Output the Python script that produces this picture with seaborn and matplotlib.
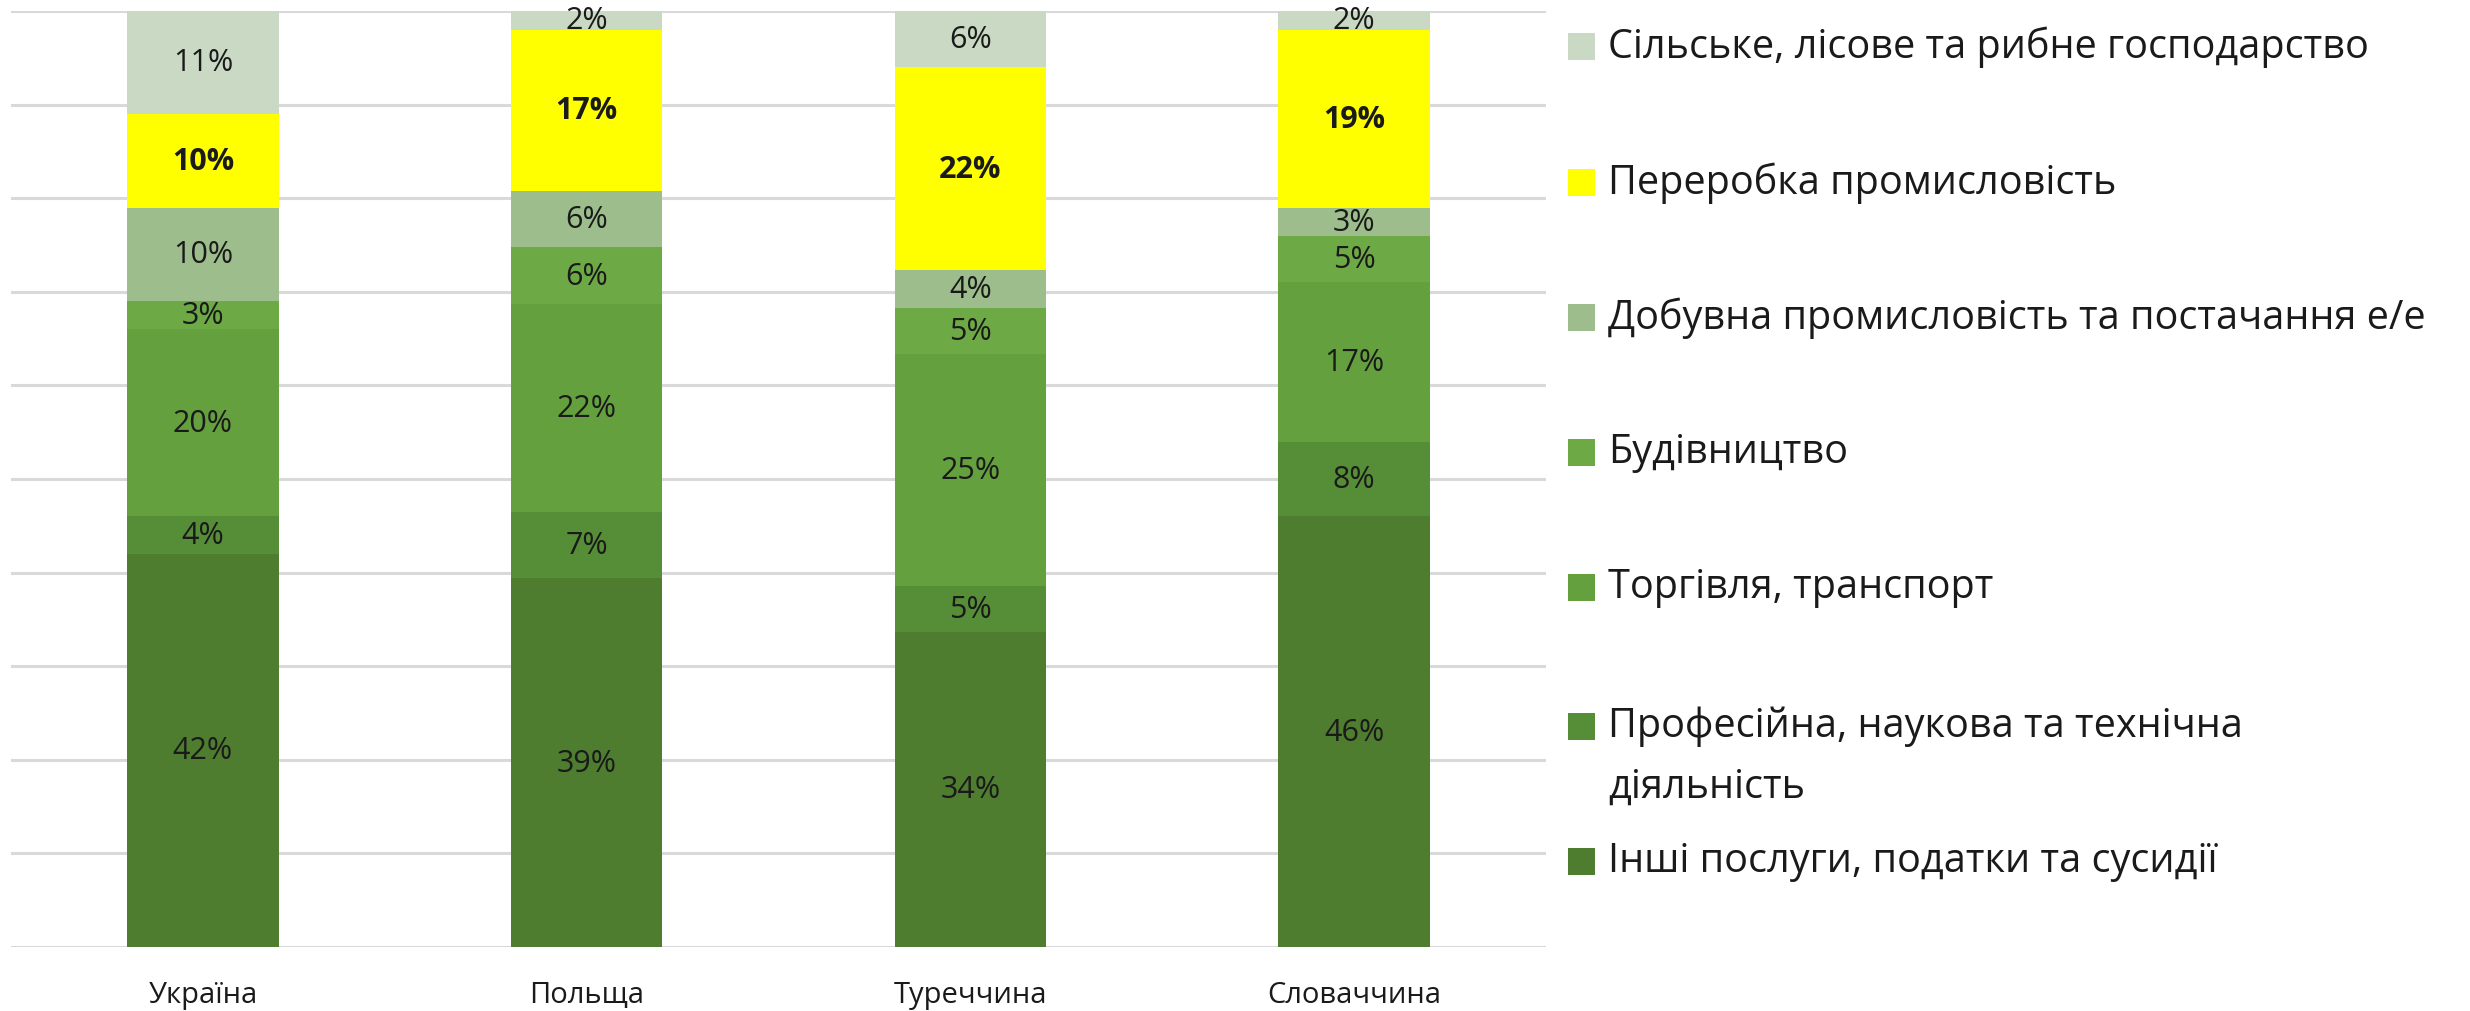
import numpy as np
import pandas as pd
import matplotlib
matplotlib.use("Agg")
import matplotlib.pyplot as plt
import seaborn as sns
from matplotlib.patches import Rectangle

# ---- data ----
countries = ["Україна", "Польща", "Туреччина", "Словаччина"]
sectors = [
    "Інші послуги, податки та сусидії",
    "Професійна, наукова та технічна\nдіяльність",
    "Торгівля, транспорт",
    "Будівництво",
    "Добувна промисловість та постачання е/е",
    "Переробка промисловість",
    "Сільське, лісове та рибне господарство",
]
other_services = [42, 39, 34, 46]
professional = [4, 7, 5, 8]
trade = [20, 22, 25, 17]
construction = [3, 6, 5, 5]
mining = [10, 6, 4, 3]
manufacturing = [10, 17, 22, 19]
agriculture = [11, 2, 6, 2]
series_values = [other_services, professional, trade, construction, mining,
                 manufacturing, agriculture]
colors = ["#4F7D30", "#568D37", "#65A03F", "#6DAA45", "#9DBE8C", "#FFFF00", "#C9D9C3"]
bold_sector = "Переробка промисловість"

sns.set_theme(style="white")
plt.rcParams["font.family"] = ["Open Sans", "DejaVu Sans"]

df = pd.DataFrame({s: v for s, v in zip(sectors, series_values)}, index=countries)
shares = df.div(df.sum(axis=1), axis=0) * 100
cum = shares.cumsum(axis=1)

fig = plt.figure(figsize=(24.7, 10.12), dpi=100)
ax = fig.add_axes([11 / 2470, 1 - 948 / 1012, (1546 - 11) / 2470, (948 - 12) / 1012])

# stacked bars: draw cumulative tops from tallest to shortest
for s, col in reversed(list(zip(sectors, colors))):
    sns.barplot(x=countries, y=cum[s].values, color=col, ax=ax, width=0.395,
                saturation=1, errorbar=None, linewidth=0, edgecolor="none", zorder=3)

# labels
for i, c in enumerate(countries):
    base = 0
    for s in sectors:
        v = shares.loc[c, s]
        raw = df.loc[c, s]
        ax.text(i, base + v / 2, f"{raw}%", ha="center", va="center",
                fontsize=22, color="#1A1A1A",
                fontweight="bold" if s == bold_sector else "normal", zorder=5)
        base += v

ax.set_ylim(0, 100)
ax.set_xlim(-0.5, 3.5)
ax.set_yticks(np.arange(0, 101, 10))
ax.yaxis.grid(True, color="#D9D9D9", linewidth=2.2, zorder=0)
ax.set_axisbelow(True)
ax.set_yticklabels([])
ax.tick_params(axis="y", length=0)
ax.tick_params(axis="x", length=0, labelsize=21, pad=24, colors="#1A1A1A")
ax.set_xlabel("")
ax.set_ylabel("")
for sp in ax.spines.values():
    sp.set_visible(False)

# legend (manual, top to bottom)
W, H = 2470, 1012
centers = [47, 183, 318, 453, 588, 727, 862]
for s, col, yc in zip(reversed(sectors), reversed(colors), centers):
    fig.add_artist(Rectangle((1568 / W, 1 - (yc + 13.5) / H), 27 / W, 27 / H,
                             transform=fig.transFigure, facecolor=col, edgecolor="none"))
    for k, line in enumerate(s.split("\n")):
        fig.text(1608 / W, 1 - (yc + k * 60) / H, line, ha="left", va="center",
                 fontsize=28.5, color="#1A1A1A")

fig.savefig("out.png", dpi=100)
